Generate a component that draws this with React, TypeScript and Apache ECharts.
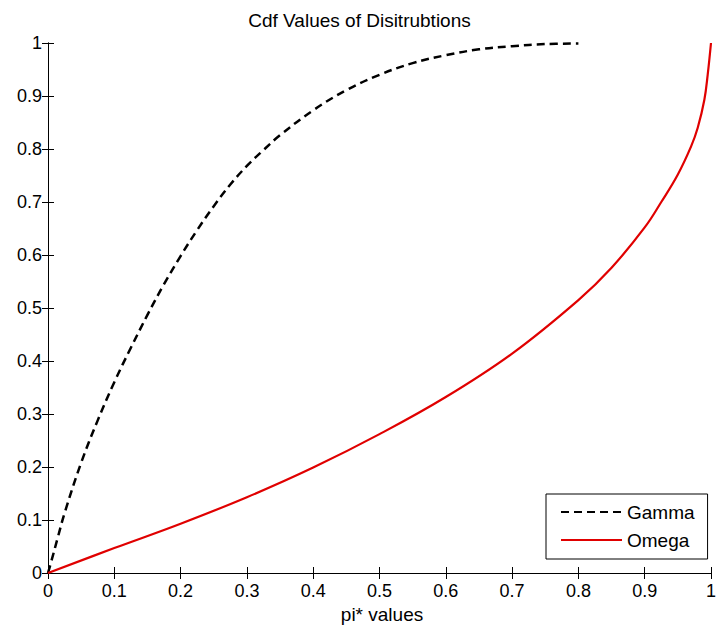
import React, { useEffect, useRef } from "react";
import * as echarts from "echarts";

const titleText = "Cdf Values of Disitrubtions";
const xAxisTitle = "pi* values";
const seriesNames = ["Gamma", "Omega"];

const gammaX = [0, 0.005, 0.015, 0.025, 0.05, 0.075, 0.1, 0.125, 0.15, 0.175, 0.2, 0.225, 0.25, 0.275, 0.3, 0.325, 0.35, 0.4, 0.45, 0.5, 0.55, 0.6, 0.65, 0.7, 0.75, 0.8];
const gammaY = [0, 0.022, 0.068, 0.113, 0.208, 0.288, 0.36, 0.425, 0.487, 0.545, 0.598, 0.647, 0.692, 0.733, 0.768, 0.798, 0.826, 0.873, 0.911, 0.94, 0.962, 0.977, 0.988, 0.994, 0.998, 0.999];

const omegaX = [0, 0.1, 0.2, 0.3, 0.4, 0.5, 0.6, 0.7, 0.8, 0.85, 0.9, 0.925, 0.95, 0.97, 0.98, 0.99, 0.995, 1];
const omegaY = [0, 0.047, 0.093, 0.143, 0.199, 0.262, 0.332, 0.414, 0.515, 0.576, 0.652, 0.7, 0.752, 0.805, 0.84, 0.893, 0.94, 1];

const FONT = "'Liberation Sans', Arial, sans-serif";

export default function App() {
  const ref = useRef<HTMLDivElement>(null);
  useEffect(() => {
    if (!ref.current) return;
    const chart = echarts.init(ref.current, undefined, { renderer: "svg" });
    const axisCommon = {
      type: "value" as const,
      min: 0,
      max: 1,
      interval: 0.1,
      axisLine: { show: true, lineStyle: { color: "#000", width: 1 } },
      axisTick: { show: true, inside: true, length: 6, lineStyle: { color: "#000" } },
      splitLine: { show: false },
    };
    chart.setOption({
      animation: false,
      backgroundColor: "#fff",
      textStyle: { fontFamily: FONT },
      grid: { left: 48, top: 43, right: 3, bottom: 52, containLabel: false },
      xAxis: [
        {
          ...axisCommon,
          position: "bottom",
          axisLabel: { show: true, color: "#000", fontSize: 18, fontFamily: FONT, margin: 9 },
        },
        {
          ...axisCommon,
          position: "top",
          axisLabel: { show: false },
        },
      ],
      yAxis: [
        {
          ...axisCommon,
          position: "left",
          axisLabel: { show: true, color: "#000", fontSize: 18, fontFamily: FONT, margin: 6 },
        },
        {
          ...axisCommon,
          position: "right",
          axisLabel: { show: false },
        },
      ],
      legend: {
        show: true,
        orient: "vertical",
        left: 546,
        top: 494,
        padding: [8, 13, 9, 14],
        itemWidth: 61,
        itemHeight: 20,
        itemGap: 8,
        backgroundColor: "#fff",
        borderColor: "#000",
        borderWidth: 1,
        borderRadius: 0,
        itemStyle: { opacity: 0 },
        textStyle: { color: "#000", fontSize: 19, fontFamily: FONT, lineHeight: 20 },
        data: seriesNames,
      },
      graphic: [
        {
          type: "text",
          left: "center",
          top: 11,
          style: { text: titleText, fill: "#000", font: `19px ${FONT}` },
        },
        {
          type: "text",
          x: 382,
          y: 614,
          style: {
            text: xAxisTitle,
            fill: "#000",
            font: `19px ${FONT}`,
            align: "center",
            verticalAlign: "middle",
          },
        },
      ],
      series: [
        {
          name: seriesNames[0],
          type: "line",
          xAxisIndex: 0,
          yAxisIndex: 0,
          symbol: "none",
          smooth: 0.4,
          lineStyle: { color: "#000", width: 2.5, type: [8, 5] },
          itemStyle: { color: "#000" },
          data: gammaX.map((x, i) => [x, gammaY[i]]),
        },
        {
          name: seriesNames[1],
          type: "line",
          xAxisIndex: 0,
          yAxisIndex: 0,
          symbol: "none",
          smooth: 0.4,
          lineStyle: { color: "#e00000", width: 2.2 },
          itemStyle: { color: "#e00000" },
          data: omegaX.map((x, i) => [x, omegaY[i]]),
        },
      ],
    });
    return () => chart.dispose();
  }, []);
  return (
    <div
      ref={ref}
      style={{ position: "absolute", left: 0, top: 0, width: 719, height: 625 }}
    />
  );
}
